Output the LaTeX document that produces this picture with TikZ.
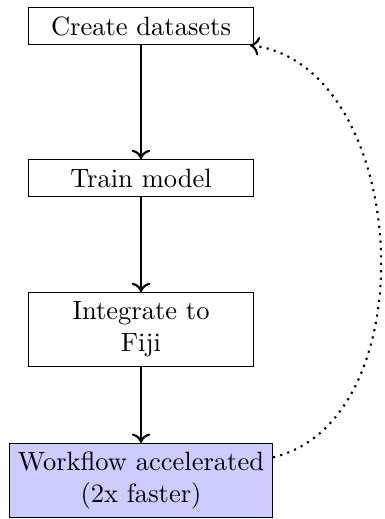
\documentclass[tikz,border=0pt]{standalone}
\usetikzlibrary{positioning,arrows.meta}
\begin{document}
\begin{tikzpicture}[x=1pt,y=1pt,
  stepbox/.style={draw, text width=2.75cm, align=center, inner sep=3.4pt},
  endbox/.style={draw, fill=blue!20, align=center, inner sep=3.2pt},
  flow/.style={-{To[length=3.6pt,width=7pt]}, thick}]
\useasboundingbox (0,0) rectangle (144.9,-195.8);
\node[stepbox] (create) at (53.2,-9.8) {Create datasets};
\node[stepbox] (train) at (53.2,-67.2) {Train model};
\node[stepbox] (fiji) at (53.2,-124.3) {Integrate to\\Fiji};
\node[endbox] (fast) at (53.2,-181.3) {Workflow accelerated\\(2x faster)};
\draw[flow] (create) -- (train);
\draw[flow] (train) -- (fiji);
\draw[flow] (fiji) -- (fast);
\draw[flow, dotted] (fast) to[bend right=80] (create);
\end{tikzpicture}
\end{document}
